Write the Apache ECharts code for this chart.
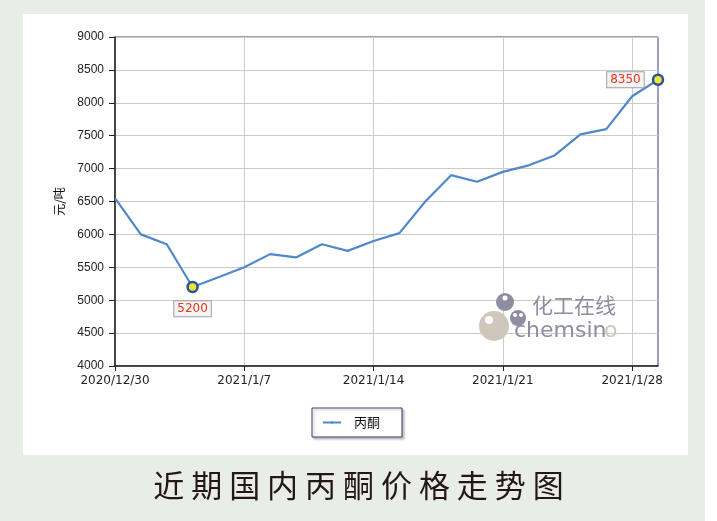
<!DOCTYPE html>
<html>
<head>
<meta charset="utf-8">
<script src="https://cdn.jsdelivr.net/npm/echarts@6/dist/echarts.min.js"></script>
<style>
html,body{margin:0;padding:0;background:#ffffff;}
#chart{width:717px;height:521px;}
</style>
</head>
<body>
<div id="chart"></div>
<script>
var categories = ['2020/12/30','2020/12/31','2021/1/4','2021/1/5','2021/1/6','2021/1/7','2021/1/8','2021/1/11','2021/1/12','2021/1/13','2021/1/14','2021/1/15','2021/1/18','2021/1/19','2021/1/20','2021/1/21','2021/1/22','2021/1/25','2021/1/26','2021/1/27','2021/1/28','2021/1/29'];
var values = [6550,6000,5850,5200,5350,5500,5700,5650,5850,5750,5900,6020,6500,6900,6800,6950,7050,7200,7520,7600,8100,8350];
var yTicks = {min:4000, max:9000, interval:500};
var seriesName = '丙酮';
var titleText = '近 期 国 内 丙 酮 价 格 走 势 图';
var yName = '元/吨';

var chart = echarts.init(document.getElementById('chart'), null, {renderer:'canvas'});
var labelStyle = {
  show:true, color:'#e8341c', fontSize:12, fontFamily:'DejaVu Sans',
  backgroundColor:'#f4f4f4', borderColor:'#a0a0a0', borderWidth:1,
  padding:[2,3,1,3], formatter:function(p){return String(p.value);}
};
chart.setOption({
  animation:false,
  backgroundColor:'transparent',
  graphic:[
    {type:'rect', z:-10, silent:true, shape:{x:0,y:0,width:705,height:521}, style:{fill:'#e9ede7'}},
    {type:'rect', z:-9, silent:true, shape:{x:23,y:14,width:665,height:441}, style:{fill:'#ffffff'}},
    {type:'circle', z:5, silent:true, shape:{cx:494,cy:326,r:15}, style:{fill:'#cfc6bc'}},
    {type:'circle', z:5, silent:true, shape:{cx:489,cy:320,r:4}, style:{fill:'#ffffff'}},
    {type:'circle', z:5, silent:true, shape:{cx:505,cy:302,r:9}, style:{fill:'#8d8ea0'}},
    {type:'circle', z:5, silent:true, shape:{cx:505,cy:298,r:2.5}, style:{fill:'#ffffff'}},
    {type:'circle', z:5, silent:true, shape:{cx:518,cy:318,r:8}, style:{fill:'#8d8ea0'}},
    {type:'circle', z:5, silent:true, shape:{cx:515,cy:315,r:2}, style:{fill:'#ffffff'}},
    {type:'circle', z:5, silent:true, shape:{cx:521,cy:315,r:2}, style:{fill:'#ffffff'}},
    {type:'text', z:5, silent:true, left:532, top:295, style:{text:'化工在线', fill:'#8d8ea0', font:'21px "Noto Sans CJK SC"'}},
    {type:'text', z:5, silent:true, left:514, top:320, style:{text:'chemsin', fill:'#8d8ea0', font:'22px "DejaVu Sans"'}},
    {type:'text', z:5, silent:true, left:604, top:320, style:{text:'o', fill:'#cfc6bc', font:'22px "DejaVu Sans"'}}
  ],
  title:{
    text:titleText, left:'center', top:465,
    textStyle:{color:'#231815', fontSize:31, fontWeight:'normal', fontFamily:'"Noto Sans CJK SC"'}
  },
  legend:{
    data:[seriesName], left:312, top:408,
    backgroundColor:'#ffffff', borderColor:'#3a3a6e', borderWidth:1,
    padding:[8,22,8,10], itemWidth:18, itemHeight:3, itemGap:5,
    shadowColor:'rgba(120,120,120,0.45)', shadowOffsetX:2, shadowOffsetY:2, shadowBlur:2,
    textStyle:{color:'#111', fontSize:13, fontFamily:'"Noto Sans CJK SC"', padding:[0,0,0,8]}
  },
  grid:{left:115, right:59, top:37, bottom:155, show:true, borderColor:'#3a3a78', borderWidth:1, backgroundColor:'#ffffff'},
  xAxis:{
    type:'category', data:categories, boundaryGap:false,
    axisLine:{lineStyle:{color:'#222', width:1.5}},
    axisTick:{show:true, interval:4, length:5, lineStyle:{color:'#222'}},
    axisLabel:{interval:4, color:'#222', fontSize:12, fontFamily:'DejaVu Sans', margin:9},
    splitLine:{show:true, interval:4, lineStyle:{color:'#cfcac6', width:1}}
  },
  yAxis:{
    type:'value', min:yTicks.min, max:yTicks.max, interval:yTicks.interval,
    name:yName, nameLocation:'middle', nameGap:50, nameRotate:90,
    nameTextStyle:{color:'#111', fontSize:12, fontFamily:'"Noto Sans CJK SC"'},
    axisLine:{show:true, lineStyle:{color:'#222', width:1.5}},
    axisTick:{show:true, length:6, lineStyle:{color:'#222'}},
    axisLabel:{color:'#222', fontSize:12, fontFamily:'"Liberation Sans"', margin:11, formatter:function(v){return String(v);}},
    splitLine:{show:true, lineStyle:{color:'#cfcac6', width:1}}
  },
  series:[{
    name:seriesName, type:'line', data:values, showSymbol:false, symbol:'none',
    lineStyle:{color:'#4f88cc', width:2.2}, itemStyle:{color:'#4f88cc'},
    markPoint:{
      symbol:'circle', symbolSize:10,
      itemStyle:{color:'#f0e62a', borderColor:'#2a4fa8', borderWidth:2.5},
      data:[
        {type:'min', label:Object.assign({}, labelStyle, {position:'bottom', distance:8})},
        {type:'max', label:Object.assign({}, labelStyle, {position:'left', distance:8})}
      ]
    }
  }]
});
</script>
</body>
</html>
